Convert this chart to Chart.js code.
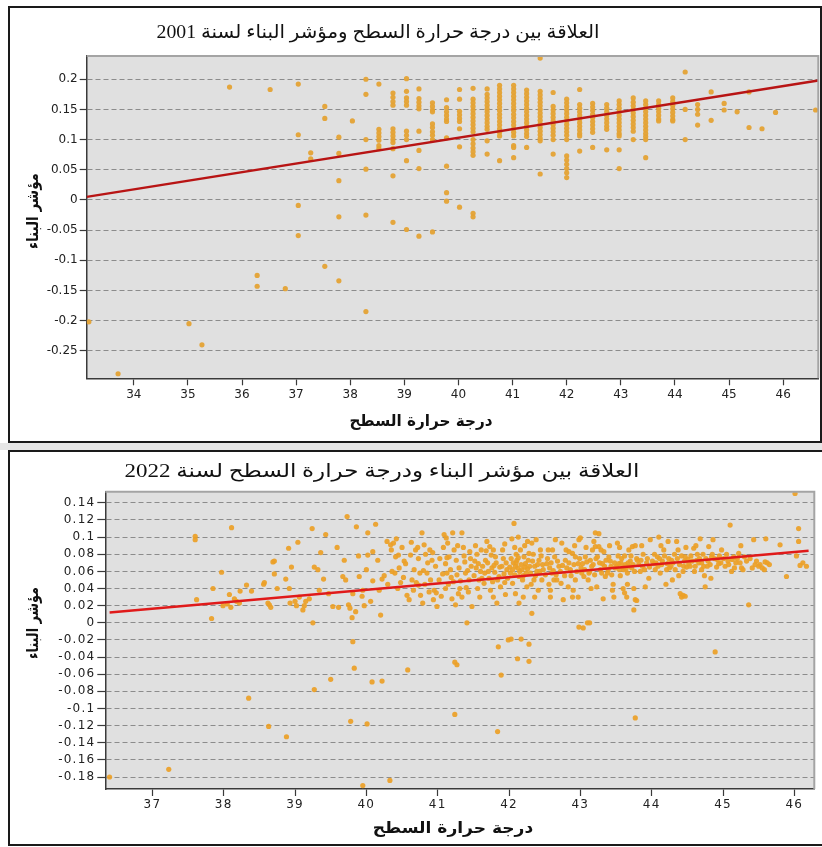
<!DOCTYPE html>
<html>
<head>
<meta charset="utf-8">
<script src="https://cdn.jsdelivr.net/npm/chart.js@4.4.1/dist/chart.umd.min.js"></script>
<style>
  body { margin: 0; background: #fff; width: 822px; height: 847px; position: relative; overflow: hidden; }
  .frame { position: absolute; border: 2px solid #1a1a1a; box-sizing: border-box; }
  canvas { position: absolute; }
  .txt { position: absolute; white-space: nowrap; color: #111; line-height: 1; }
  .title { font-family: "Liberation Serif", "DejaVu Sans"; font-size: 19px; }
  .axis { font-family: "DejaVu Sans"; font-size: 16px; font-weight: bold; }
</style>
</head>
<body>

<div class="frame" style="left:8px; top:6px; width:814px; height:437px"></div>
<div style="position:absolute; left:0; top:443px; width:822px; height:7px; background:#e6e6e6"></div>
<div class="frame" style="left:8px; top:450px; width:830px; height:396px"></div>

<canvas id="chart2001" width="822" height="445" style="left:0; top:0"></canvas>
<canvas id="chart2022" width="822" height="402" style="left:0; top:445px"></canvas>

<div class="txt title" dir="rtl" data-cx="378" data-cy="31" data-w="443">العلاقة بين درجة حرارة السطح ومؤشر البناء لسنة 2001</div>
<div class="txt axis" dir="rtl" data-cx="421" data-cy="421" data-w="143">درجة حرارة السطح</div>
<div class="txt axis" dir="rtl" data-cx="33" data-cy="211" data-w="76" data-rot="1">مؤشر البناء</div>

<div class="txt title" dir="rtl" data-cx="382" data-cy="470" data-w="515">العلاقة بين مؤشر البناء ودرجة حرارة السطح لسنة 2022</div>
<div class="txt axis" dir="rtl" data-cx="453" data-cy="828" data-w="160">درجة حرارة السطح</div>
<div class="txt axis" dir="rtl" data-cx="33" data-cy="623" data-w="72" data-rot="1">مؤشر البناء</div>

<script>
// 2001: surface temperature comes in columns, so each x has a list of NDBI values
const lst2001 = [33.17, 33.71, 35.02, 35.26, 35.77, 36.28, 36.52, 36.8, 37.04, 37.27,
  37.53, 37.79, 38.04, 38.29, 38.53, 38.79, 39.04, 39.27, 39.52, 39.78,
  40.02, 40.27, 40.53, 40.76, 41.02, 41.26, 41.51, 41.75, 42.0, 42.24,
  42.48, 42.74, 42.97, 43.23, 43.46, 43.7, 43.96, 44.19, 44.42, 44.67,
  44.91, 45.15, 45.37, 45.61, 45.86, 46.6];

const ndbi2001 = [
  [-0.202], [-0.288], [-0.205], [-0.24], [0.187], [-0.125, -0.143], [0.183], [-0.147],
  [0.192, 0.108, -0.009, -0.059],
  [0.078, 0.068],
  [0.155, 0.135, -0.11],
  [0.104, 0.077, 0.032, -0.028, -0.134],
  [0.131],
  [0.2, 0.175, 0.1, 0.051, -0.025, -0.185],
  [0.192, 0.117, 0.111, 0.105, 0.099, 0.09, 0.085],
  [0.177, 0.17, 0.163, 0.157, 0.118, 0.112, 0.106, 0.1, 0.095, 0.085, 0.04, -0.037],
  [0.201, 0.18, 0.169, 0.163, 0.157, 0.114, 0.107, 0.1, 0.065, -0.049],
  [0.184, 0.168, 0.162, 0.156, 0.151, 0.114, 0.082, 0.052, -0.06],
  [0.161, 0.155, 0.149, 0.146, 0.126, 0.12, 0.113, 0.107, 0.1, -0.053],
  [0.166, 0.153, 0.146, 0.14, 0.134, 0.13, 0.103, 0.056, 0.012, -0.002],
  [0.183, 0.167, 0.147, 0.141, 0.135, 0.13, 0.118, 0.088, -0.012],
  [0.185, 0.167, 0.161, 0.155, 0.149, 0.143, 0.137, 0.131, 0.125, 0.119, 0.113, 0.1, 0.093, 0.086, 0.08, 0.074, -0.022, -0.028],
  [0.184, 0.175, 0.169, 0.163, 0.157, 0.151, 0.146, 0.14, 0.134, 0.128, 0.122, 0.117, 0.098, 0.076],
  [0.19, 0.184, 0.178, 0.172, 0.166, 0.16, 0.154, 0.148, 0.142, 0.136, 0.13, 0.124, 0.118, 0.112, 0.106, 0.065],
  [0.19, 0.184, 0.178, 0.172, 0.166, 0.16, 0.154, 0.148, 0.142, 0.136, 0.13, 0.124, 0.118, 0.112, 0.106, 0.09, 0.087, 0.07],
  [0.182, 0.176, 0.17, 0.164, 0.158, 0.152, 0.146, 0.14, 0.134, 0.128, 0.122, 0.116, 0.11, 0.105, 0.087],
  [0.235, 0.18, 0.174, 0.168, 0.162, 0.156, 0.15, 0.144, 0.138, 0.132, 0.126, 0.12, 0.114, 0.108, 0.102, 0.098, 0.043],
  [0.178, 0.155, 0.149, 0.143, 0.137, 0.131, 0.125, 0.119, 0.113, 0.107, 0.1, 0.076],
  [0.167, 0.161, 0.155, 0.149, 0.143, 0.137, 0.131, 0.125, 0.119, 0.113, 0.107, 0.1, 0.073, 0.066, 0.059, 0.052, 0.045, 0.037],
  [0.183, 0.158, 0.152, 0.146, 0.14, 0.134, 0.128, 0.122, 0.116, 0.11, 0.106, 0.081],
  [0.16, 0.154, 0.148, 0.142, 0.136, 0.13, 0.124, 0.118, 0.112, 0.087],
  [0.158, 0.152, 0.146, 0.14, 0.134, 0.128, 0.122, 0.117, 0.083],
  [0.164, 0.158, 0.152, 0.146, 0.14, 0.134, 0.128, 0.122, 0.116, 0.11, 0.106, 0.083, 0.052],
  [0.169, 0.162, 0.156, 0.15, 0.144, 0.138, 0.132, 0.126, 0.12, 0.114, 0.1],
  [0.164, 0.158, 0.152, 0.146, 0.14, 0.134, 0.128, 0.122, 0.116, 0.11, 0.105, 0.1, 0.07],
  [0.164, 0.158, 0.152, 0.146, 0.14, 0.134, 0.131],
  [0.169, 0.163, 0.157, 0.151, 0.145, 0.139, 0.133, 0.131],
  [0.212, 0.15, 0.1],
  [0.158, 0.15, 0.142, 0.124],
  [0.179, 0.132],
  [0.16, 0.149],
  [0.146],
  [0.179, 0.12],
  [0.118],
  [0.145],
  [0.149]
];

// fitted line end points
const fitX2001 = [33.13, 46.65];
const fitY2001 = [0.005, 0.198];

// 2022: scattered [temperature, NDBI] pairs
const obs2022 = [
  [36.4, -0.18], [37.23, -0.171], [37.6, 0.101], [37.6, 0.097], [37.62, 0.027], [37.83, 0.005], [37.85, 0.04], [37.97, 0.059], [38.11, 0.111], [38.35, -0.088],
  [38.63, -0.121], [38.88, -0.133], [38.08, 0.033], [38.15, 0.028], [37.99, 0.02], [38.1, 0.018], [38.23, 0.037], [38.32, 0.044], [38.39, 0.037], [38.22, 0.023],
  [38.18, 0.025], [38.05, 0.022], [38.56, 0.045], [38.57, 0.047], [38.64, 0.021], [38.66, 0.018], [38.62, 0.023], [38.69, 0.071], [38.71, 0.072], [38.71, 0.057],
  [38.75, 0.04], [38.87, 0.051], [38.91, 0.087], [38.95, 0.065], [38.92, 0.04], [38.93, 0.023],
  [39.06, 0.03], [39.15, 0.025], [39.13, 0.02], [39.25, 0.0], [39.27, 0.065], [39.32, 0.062], [39.24, 0.11], [39.4, 0.051], [39.43, 0.103], [39.36, 0.082],
  [39.47, 0.034], [39.53, 0.019], [39.34, 0.038], [39.2, 0.028], [39.11, 0.015], [39.27, -0.078], [39.5, -0.066], [39.04, 0.094], [39.02, 0.02], [39.0, 0.025],
  [39.59, 0.088], [39.61, 0.018], [39.73, 0.124], [39.69, 0.073], [39.75, 0.021], [39.77, 0.017], [39.8, 0.006], [39.81, -0.022], [39.83, -0.053], [39.86, 0.112],
  [39.89, 0.078], [39.9, 0.054], [39.95, 0.038], [39.97, 0.02], [39.94, 0.031], [39.67, 0.054], [39.71, 0.05], [39.81, 0.034], [39.85, 0.013], [39.78, -0.115],
  [40.01, -0.118], [39.95, -0.19],
  [40.02, 0.079], [40.0, 0.062], [40.06, 0.025], [40.09, 0.049], [40.02, 0.105], [40.13, 0.115], [40.09, 0.083], [40.2, 0.009], [40.22, 0.051], [40.25, 0.055],
  [40.29, 0.095], [40.34, 0.091], [40.41, 0.077], [40.38, 0.093], [40.42, 0.098], [40.46, 0.064], [40.18, 0.038], [40.16, 0.073], [40.08, -0.069], [40.22, -0.068],
  [40.33, -0.184], [40.3, 0.045], [40.44, 0.04], [40.36, 0.06],
  [40.35, 0.085], [40.45, 0.079], [40.5, 0.088], [40.4, 0.058], [40.48, 0.047], [40.53, 0.072],
  [40.58, -0.055], [40.55, 0.069], [40.57, 0.032], [40.6, 0.027], [40.67, 0.062], [40.69, 0.085], [40.73, 0.075], [40.73, 0.044], [40.76, 0.032], [40.78, 0.105],
  [40.81, 0.091], [40.83, 0.08], [40.89, 0.085], [40.92, 0.073], [40.95, 0.038], [40.99, 0.019], [41.02, 0.05], [40.64, 0.05], [40.85, 0.058], [40.9, 0.05],
  [40.97, 0.066], [40.79, 0.023], [40.62, 0.079], [40.7, 0.047], [40.88, 0.036], [40.52, 0.053], [40.94, 0.027], [40.8, 0.061],
  [40.63, 0.094], [40.72, 0.088], [40.86, 0.07], [40.93, 0.082], [40.75, 0.058], [40.82, 0.045], [40.98, 0.035], [40.66, 0.038],
  [41.09, 0.103], [41.11, 0.04], [41.12, 0.099], [41.13, 0.076], [41.16, 0.077], [41.19, 0.053], [41.21, 0.105], [41.25, 0.021], [41.24, -0.046], [41.27, -0.049],
  [41.29, 0.034], [41.32, 0.049], [41.34, 0.105], [41.37, 0.078], [41.38, 0.071], [41.4, 0.041], [41.41, 0.0], [41.45, 0.083], [41.48, 0.019], [41.11, 0.069],
  [41.18, 0.062], [41.23, 0.085], [41.3, 0.064], [41.34, 0.03], [41.44, 0.05], [41.24, -0.107], [41.15, 0.045], [41.07, 0.057], [41.27, 0.056], [41.42, 0.061],
  [41.47, 0.066], [41.05, 0.031], [41.36, 0.088], [41.2, 0.028], [41.26, 0.073],
  [41.03, 0.075], [41.08, 0.088], [41.14, 0.093], [41.22, 0.048], [41.31, 0.04], [41.39, 0.058], [41.46, 0.075], [41.13, 0.058], [41.28, 0.09], [41.43, 0.036],
  [41.51, 0.055], [41.54, 0.064], [41.57, 0.069], [41.6, 0.06], [41.65, 0.046], [41.69, 0.095], [41.73, 0.089], [41.75, 0.079], [41.79, 0.067], [41.85, -0.028],
  [41.86, 0.054], [41.88, 0.042], [41.93, 0.057], [41.95, 0.033], [41.99, -0.02], [41.67, 0.073], [41.74, 0.038], [41.81, 0.077], [41.9, 0.066], [41.83, 0.023],
  [41.84, -0.127], [41.89, -0.061], [41.62, 0.052], [41.71, 0.06], [41.77, 0.048], [41.92, 0.075], [41.97, 0.062], [41.56, 0.04], [41.8, 0.059], [41.68, 0.084],
  [41.94, 0.047],
  [41.52, 0.072], [41.55, 0.08], [41.58, 0.05], [41.61, 0.085], [41.63, 0.066], [41.66, 0.058], [41.7, 0.07], [41.72, 0.052], [41.76, 0.064], [41.78, 0.085],
  [41.82, 0.07], [41.84, 0.05], [41.87, 0.065], [41.91, 0.085], [41.96, 0.07], [41.98, 0.052], [41.59, 0.03], [41.78, 0.03], [41.94, 0.092], [41.53, 0.09],
  [42.04, 0.098], [42.07, 0.116], [42.09, 0.066], [42.11, 0.073], [42.14, 0.054], [42.18, 0.062], [42.23, 0.069], [42.28, 0.081], [42.32, 0.093], [42.35, 0.05],
  [42.38, 0.097], [42.41, 0.038], [42.44, 0.085], [42.09, 0.034], [42.16, 0.085], [42.3, 0.058], [42.36, 0.066], [42.42, 0.073], [42.46, 0.05], [42.25, 0.042],
  [42.21, 0.077], [42.14, 0.023], [42.32, 0.011], [42.03, -0.019], [42.17, -0.019], [42.12, -0.042], [42.28, -0.025], [42.28, -0.045], [42.02, 0.058], [42.06, 0.07],
  [42.12, 0.064], [42.2, 0.055], [42.26, 0.063], [42.33, 0.072], [42.39, 0.06], [42.05, 0.046], [42.22, 0.09], [42.47, 0.068], [42.1, 0.08],
  [42.01, 0.065], [42.03, 0.075], [42.05, 0.062], [42.08, 0.056], [42.1, 0.07], [42.13, 0.076], [42.15, 0.06], [42.17, 0.068], [42.19, 0.05], [42.22, 0.065],
  [42.24, 0.058], [42.27, 0.073], [42.29, 0.066], [42.31, 0.045], [42.34, 0.08], [42.37, 0.055], [42.4, 0.068], [42.43, 0.06], [42.45, 0.078], [42.08, 0.088],
  [42.2, 0.03], [42.36, 0.03], [42.13, 0.1], [42.26, 0.095],
  [42.48, 0.062], [42.53, 0.069], [42.55, 0.085], [42.6, 0.058], [42.64, 0.077], [42.67, 0.05], [42.7, 0.066], [42.74, 0.093], [42.79, 0.073], [42.83, 0.042],
  [42.86, 0.062], [42.89, 0.081], [42.93, 0.05], [42.97, 0.069], [43.0, 0.099], [42.58, 0.03], [42.76, 0.027], [42.97, 0.03], [42.65, 0.097], [42.9, 0.038],
  [42.61, 0.085], [42.63, 0.05], [42.58, 0.038], [42.89, 0.03], [42.98, -0.005], [42.84, 0.083], [42.93, 0.077],
  [42.51, 0.056], [42.54, 0.075], [42.57, 0.064], [42.59, 0.07], [42.62, 0.061], [42.66, 0.056], [42.68, 0.072], [42.72, 0.06], [42.75, 0.067], [42.78, 0.055],
  [42.81, 0.064], [42.84, 0.07], [42.87, 0.055], [42.91, 0.068], [42.95, 0.06], [42.99, 0.075], [42.73, 0.046], [42.8, 0.085], [42.92, 0.09], [42.56, 0.045],
  [43.02, 0.058], [43.07, 0.077], [43.11, 0.05], [43.16, 0.066], [43.21, 0.089], [43.23, 0.042], [43.03, 0.069], [43.05, 0.054], [43.12, 0.058], [43.17, 0.085],
  [43.21, 0.105], [43.24, 0.077], [43.26, 0.089], [43.31, 0.069], [43.35, 0.054], [43.4, 0.077], [43.45, 0.038], [43.47, 0.03], [43.1, 0.0], [43.04, -0.006],
  [43.13, 0.0], [43.26, 0.104], [42.98, 0.097], [43.28, 0.062], [43.33, 0.083], [43.43, 0.066], [43.38, 0.058], [43.14, 0.073], [43.48, 0.07],
  [43.01, 0.064], [43.06, 0.062], [43.09, 0.071], [43.13, 0.06], [43.18, 0.068], [43.2, 0.056], [43.22, 0.075], [43.27, 0.07], [43.3, 0.058], [43.34, 0.066],
  [43.36, 0.073], [43.39, 0.062], [43.42, 0.072], [43.44, 0.056], [43.49, 0.064], [43.08, 0.088], [43.19, 0.095], [43.29, 0.085], [43.41, 0.09], [43.46, 0.045],
  [43.15, 0.04], [43.32, 0.028],
  [43.52, 0.093], [43.54, 0.069], [43.61, 0.062], [43.68, 0.085], [43.73, 0.089], [43.75, 0.015], [43.77, 0.027], [43.8, 0.073], [43.87, 0.066], [43.91, 0.042],
  [43.98, 0.097], [43.77, 0.09], [43.79, 0.026], [43.77, -0.111], [43.58, 0.075], [43.63, 0.068], [43.66, 0.058], [43.7, 0.072], [43.84, 0.06], [43.93, 0.07],
  [43.56, 0.055], [43.62, 0.035], [43.65, 0.03], [43.72, 0.064], [43.96, 0.052],
  [43.51, 0.066], [43.53, 0.078], [43.55, 0.062], [43.57, 0.07], [43.6, 0.065], [43.62, 0.078], [43.64, 0.063], [43.67, 0.07], [43.69, 0.066], [43.71, 0.078],
  [43.74, 0.068], [43.76, 0.06], [43.79, 0.075], [43.82, 0.068], [43.85, 0.073], [43.88, 0.08], [43.9, 0.062], [43.94, 0.075], [43.97, 0.065], [43.6, 0.04],
  [43.66, 0.045], [43.75, 0.04], [43.55, 0.088], [43.86, 0.09],
  [44.03, 0.069], [44.08, 0.077], [44.12, 0.058], [44.17, 0.085], [44.22, 0.069], [44.28, 0.073], [44.35, 0.095], [44.4, 0.034], [44.42, 0.03], [44.47, 0.077],
  [44.05, 0.062], [44.15, 0.072], [44.25, 0.064], [44.32, 0.08], [44.45, 0.066], [44.1, 0.1], [44.2, 0.045], [44.38, 0.055], [44.48, 0.088],
  [44.01, 0.072], [44.04, 0.08], [44.06, 0.07], [44.09, 0.066], [44.11, 0.075], [44.14, 0.068], [44.18, 0.078], [44.21, 0.062], [44.24, 0.075], [44.27, 0.066],
  [44.3, 0.07], [44.33, 0.062], [44.36, 0.075], [44.39, 0.068], [44.42, 0.078], [44.44, 0.06], [44.46, 0.072], [44.49, 0.065], [44.13, 0.09], [44.23, 0.095],
  [44.37, 0.085], [44.29, 0.05], [44.44, 0.032], [44.47, 0.031],
  [44.52, 0.069], [44.59, 0.087], [44.63, 0.073], [44.7, 0.062], [44.75, 0.042], [44.8, 0.089], [44.84, 0.077], [44.89, -0.034], [44.94, 0.069], [44.98, 0.085],
  [44.55, 0.078], [44.66, 0.07], [44.72, 0.08], [44.78, 0.066], [44.86, 0.097], [44.92, 0.074], [44.6, 0.06], [44.68, 0.098],
  [44.51, 0.074], [44.54, 0.066], [44.57, 0.072], [44.61, 0.066], [44.64, 0.08], [44.67, 0.075], [44.7, 0.07], [44.73, 0.066], [44.76, 0.075], [44.79, 0.072],
  [44.82, 0.068], [44.85, 0.08], [44.88, 0.075], [44.91, 0.065], [44.95, 0.078], [44.97, 0.07], [44.62, 0.09], [44.83, 0.052], [44.74, 0.055],
  [45.03, 0.066], [45.1, 0.114], [45.15, 0.077], [45.22, 0.081], [45.26, 0.064], [45.36, 0.021], [45.43, 0.097], [45.5, 0.066], [45.59, 0.071], [45.8, 0.091],
  [45.89, 0.054], [46.01, 0.151], [46.03, 0.078], [46.06, 0.11], [46.06, 0.095], [46.08, 0.067], [46.17, 0.066], [45.07, 0.072], [45.18, 0.07], [45.3, 0.077],
  [45.45, 0.068], [45.55, 0.064], [45.65, 0.068], [46.12, 0.07], [45.12, 0.06],
  [45.01, 0.075], [45.05, 0.08], [45.08, 0.068], [45.13, 0.074], [45.16, 0.064], [45.2, 0.075], [45.24, 0.07], [45.28, 0.062], [45.33, 0.072], [45.38, 0.075],
  [45.41, 0.064], [45.47, 0.072], [45.52, 0.068], [45.58, 0.062], [45.62, 0.07], [45.25, 0.09], [45.6, 0.098]
];

const fitX2022 = [36.4, 46.2];
const fitY2022 = [0.012, 0.084];

// gray plot background and the light top/right frame
const plotFrame = {
  id: 'plotFrame',
  beforeDraw(chart, args, opts) {
    const { ctx, chartArea: a } = chart;
    if (opts.letterSpacing) ctx.letterSpacing = opts.letterSpacing;
    ctx.save();
    ctx.fillStyle = '#e0e0e0';
    ctx.fillRect(a.left, a.top, a.right - a.left, a.bottom - a.top);
    ctx.restore();
  },
  afterDraw(chart) {
    const { ctx, chartArea: a } = chart;
    ctx.save();
    ctx.strokeStyle = '#a4a4a4';
    ctx.lineWidth = 2;
    ctx.beginPath();
    ctx.moveTo(a.left, a.top);
    ctx.lineTo(a.right, a.top);
    ctx.lineTo(a.right, a.bottom);
    ctx.stroke();
    ctx.restore();
  }
};

function makeChart(id, pts, fitX, fitY, o) {
  const line = fitX.map((x, i) => ({ x: x, y: fitY[i] }));
  const tickFont = { family: 'DejaVu Sans', size: 12 };
  return new Chart(document.getElementById(id), {
    type: 'scatter',
    data: {
      datasets: [
        {
          type: 'line',
          data: line,
          borderColor: o.lineColor,
          borderWidth: 2.4,
          pointRadius: 0,
          fill: false,
          order: 0
        },
        {
          data: pts,
          backgroundColor: o.dotColor,
          borderWidth: 0,
          pointRadius: 2.6,
          pointHoverRadius: 2.6,
          order: 1
        }
      ]
    },
    options: {
      responsive: false,
      animation: false,
      events: [],
      layout: { padding: o.padding },
      plugins: {
        legend: { display: false },
        tooltip: { enabled: false },
        plotFrame: { letterSpacing: o.letterSpacing }
      },
      scales: {
        x: {
          type: 'linear',
          min: o.xMin,
          max: o.xMax,
          afterFit: (s) => { s.height = o.xH; },
          border: { display: true, color: '#3a3a3a', width: 1.5 },
          grid: { drawOnChartArea: false, tickLength: 7, tickColor: '#3a3a3a', tickWidth: 1.2 },
          ticks: { stepSize: 1, includeBounds: false, padding: 2, color: '#222', font: tickFont, maxRotation: 0 }
        },
        y: {
          type: 'linear',
          min: o.yMin,
          max: o.yMax,
          afterFit: (s) => { s.width = o.yW; },
          border: { display: true, color: '#3a3a3a', width: 1.5, dash: [5, 3] },
          grid: { color: '#8c8c8c', lineWidth: 1, tickLength: o.tickLen, tickColor: '#3a3a3a', tickWidth: 1.2, tickBorderDash: [] },
          ticks: {
            stepSize: o.yStep,
            includeBounds: false,
            padding: 2,
            color: '#222',
            font: tickFont,
            callback: (v) => String(parseFloat(v.toFixed(2)))
          }
        }
      }
    },
    plugins: [plotFrame]
  });
}

const pts2001 = [];
lst2001.forEach((t, i) => ndbi2001[i].forEach((v) => pts2001.push({ x: t, y: v })));
const pts2022 = obs2022.map((p) => ({ x: p[0], y: p[1] }));

makeChart('chart2001', pts2001, fitX2001, fitY2001, {
  xMin: 33.13, xMax: 46.65, yMin: -0.2955, yMax: 0.2385, yStep: 0.05,
  yW: 60, xH: 30, tickLen: 7,
  padding: { left: 26.7, top: 56, right: 3.7, bottom: 36.7 },
  lineColor: '#b81414',
  dotColor: 'rgba(228,162,52,0.95)'
});

makeChart('chart2022', pts2022, fitX2022, fitY2022, {
  xMin: 36.34, xMax: 46.28, yMin: -0.194, yMax: 0.153, yStep: 0.02,
  yW: 70, xH: 30, tickLen: 8,
  padding: { left: 35.3, top: 46.7, right: 7.7, bottom: 28 },
  lineColor: '#e01a1a',
  dotColor: 'rgba(236,160,38,0.92)',
  letterSpacing: '1.2px'
});

// place the html titles, stretched to the widths seen in the picture
document.querySelectorAll('.txt').forEach((el) => {
  const w = el.offsetWidth;
  const k = parseFloat(el.dataset.w) / w;
  el.style.left = el.dataset.cx + 'px';
  el.style.top = el.dataset.cy + 'px';
  const rot = el.dataset.rot ? ' rotate(-90deg)' : '';
  el.style.transform = 'translate(-50%, -50%)' + rot + ' scaleX(' + k.toFixed(3) + ')';
});
</script>
</body>
</html>
